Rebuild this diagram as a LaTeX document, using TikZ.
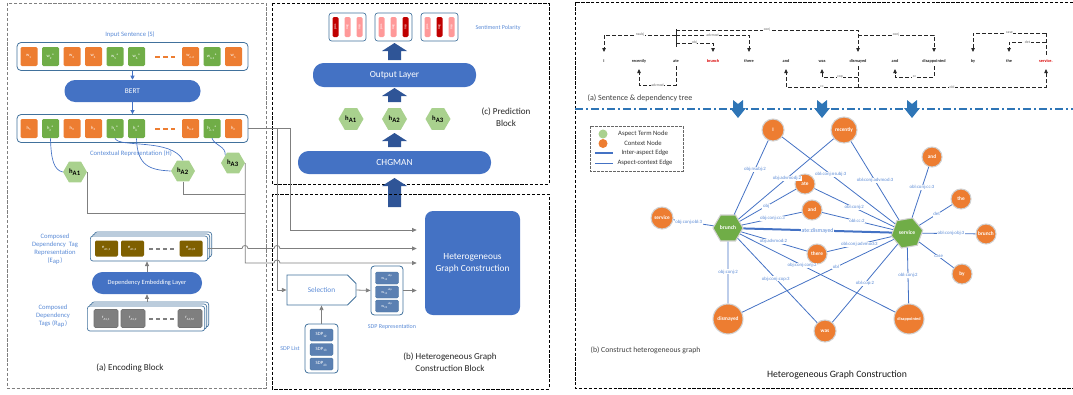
\documentclass[tikz,border=0pt]{standalone}
\usepackage{fontspec}
\setmainfont{Carlito}
\usetikzlibrary{arrows.meta,shapes.geometric,shapes.misc,positioning}

\definecolor{tokorange}{HTML}{ED7D31}
\definecolor{tokgreen}{HTML}{70AD47}
\definecolor{hexgreen}{HTML}{A9D18E}
\definecolor{fillblue}{HTML}{4472C4}
\definecolor{edgeblue}{HTML}{41719C}
\definecolor{labblue}{HTML}{5B8BD6}
\definecolor{arrblue}{HTML}{2F5597}
\definecolor{sepblue}{HTML}{2E75B6}
\definecolor{eapbrown}{HTML}{7F6000}
\definecolor{sdpblue}{HTML}{5B80B2}
\definecolor{posdark}{HTML}{C00000}
\definecolor{poslight}{HTML}{FF9999}
\definecolor{linegrey}{HTML}{7F7F7F}

% thick block arrow pointing up: x, tip y, base y
\newcommand\uparr[3]{\fill[arrblue] (#1-12.5,#2+8) -- (#1,#2) -- (#1+12.5,#2+8) -- (#1+6.5,#2+8) -- (#1+6.5,#3) -- (#1-6.5,#3) -- (#1-6.5,#2+8) -- cycle;}
% notched arrow pointing down
\newcommand\dnarr[1]{\fill[sepblue] (#1-5,100) -- (#1,104) -- (#1+5,100) -- (#1+5,108) -- (#1+8,108) -- (#1,118) -- (#1-8,108) -- (#1-5,108) -- cycle;}

\begin{document}
\begin{tikzpicture}[x=0.75pt,y=0.75pt,yscale=-1,
  wtok/.style={rounded corners=1pt, minimum width=12.75pt, minimum height=14.25pt, inner sep=0pt, text=white, font=\fontsize{3.4}{4}\selectfont},
  etok/.style={fill=eapbrown, rounded corners=1pt, minimum width=17.25pt, minimum height=12pt, inner sep=0pt, text=white, font=\fontsize{3.4}{4}\selectfont},
  rtok/.style={fill=linegrey, draw=black!55, line width=0.4pt, rounded corners=1pt, minimum width=18pt, minimum height=13.5pt, inner sep=0pt, text=white, font=\fontsize{3.4}{4}\selectfont},
  sdptok/.style={fill=sdpblue, draw=edgeblue, line width=0.3pt, rounded corners=1pt, minimum width=17.25pt, minimum height=9pt, inner sep=0pt, text=white, font=\fontsize{3}{3.5}\selectfont},
  rowbox/.style={draw=edgeblue, line width=0.6pt, rounded corners=3pt, minimum width=173.25pt, minimum height=21pt, inner sep=0pt},
  stackbox/.style={draw=edgeblue, line width=0.5pt, fill=white, rounded corners=2pt, minimum width=88pt, minimum height=18.75pt, inner sep=0pt},
  pill/.style={fill=fillblue, rounded corners=8pt, inner sep=0pt, text=white},
  hexa/.style={regular polygon, regular polygon sides=6, fill=hexgreen, inner sep=0pt, font=\bfseries\fontsize{5}{6}\selectfont},
  spbox/.style={draw=edgeblue, line width=0.5pt, rounded corners=2pt, minimum width=27.75pt, minimum height=21pt, inner sep=0pt},
  sbar/.style={rotate=90, rounded corners=1pt, minimum width=15pt, minimum height=4.5pt, inner sep=0pt, text=white, font=\fontsize{2.6}{3}\selectfont},
  lbl/.style={text=labblue, font=\fontsize{5}{6}\selectfont, align=center},
  captxt/.style={text=black!85, font=\fontsize{6.8}{8.6}\selectfont, align=center},
  gline/.style={draw=linegrey, line width=0.6pt},
  gtip/.style={-{Triangle[length=3.5pt,width=3pt]}},
  btip/.style={-{Triangle[length=3pt,width=3pt]}},
  blink/.style={draw=fillblue, line width=0.5pt},
  dashbox/.style={dash pattern=on 2.5pt off 1.2pt, line width=0.6pt},
  dword/.style={inner sep=0.5pt, font=\bfseries\fontsize{3.2}{3.2}\selectfont, text=black!85},
  dep/.style={draw=black!85, line width=0.6pt, dash pattern=on 3pt off 1.5pt},
  deptip/.style={-{Triangle[length=3pt,width=2.6pt]}},
  dlab/.style={fill=white, inner sep=0.4pt, text=black!60, font=\fontsize{2.8}{2.8}\selectfont},
  gctx/.style={circle, fill=tokorange, draw=black!18, line width=0.8pt, inner sep=0pt, text=white, font=\bfseries\fontsize{4}{4}\selectfont},
  gasp/.style={regular polygon, regular polygon sides=6, fill=tokgreen, draw=black!18, line width=0.8pt, inner sep=0pt, text=white, font=\bfseries\fontsize{4.2}{4.2}\selectfont},
  gedge/.style={draw=fillblue, line width=0.6pt},
  elab/.style={fill=white, inner sep=0.4pt, text=labblue, font=\fontsize{3.6}{3.6}\selectfont},
  legtext/.style={text=black!80, font=\fontsize{5}{6}\selectfont}
]
\useasboundingbox (0,0) rectangle (1073,394);

%%%%%%%% (a) Encoding Block
\draw[linegrey, dashbox] (7,3) rectangle (266,388);

\node[lbl] (insent) at (130,35) {Input Sentence (S)};
\node[rowbox] (sbox) at (132.5,56.5) {};
\node[rowbox] (hbox) at (132.5,128.5) {};
\foreach \x/\cl/\tk [count=\i] in {29/tokorange/{\textsubscript{1}}, 50.5/tokgreen/{\textsubscript{2}\textsuperscript{a}},
    72/tokorange/{\textsubscript{3}}, 93.5/tokorange/{\textsubscript{4}}, 115/tokgreen/{\textsubscript{5}\textsuperscript{a}},
    136.5/tokgreen/{\textsubscript{6}\textsuperscript{a}}, 190.5/tokorange/{\textsubscript{n-2}},
    212/tokgreen/{\textsubscript{n-1}\textsuperscript{a}}, 233.5/tokorange/{\textsubscript{n}}}{
  \node[wtok, fill=\cl] (w\i) at (\x,56.5) {w\tk};
  \node[wtok, fill=\cl] (h\i) at (\x,128.5) {h\tk};
}
\draw[tokorange, line width=1.5pt, dash pattern=on 3.75pt off 2.25pt] (155,56.5) -- (175,56.5);
\draw[tokorange, line width=1.5pt, dash pattern=on 3.75pt off 2.25pt] (155,128.5) -- (175,128.5);

\node[pill, minimum width=102pt, minimum height=16.5pt, font=\fontsize{5.5}{6}\selectfont] (bert) at (132.5,91) {BERT};
\node[lbl] (ctxrep) at (131,154) {Contextual Representation (H)};

\node[hexa, minimum size=18pt] (hA1) at (75,172) {h\textsubscript{A1}};
\node[hexa, minimum size=18pt] (hA2) at (183,171) {h\textsubscript{A2}};
\node[hexa, minimum size=18pt] (hA3) at (233,163) {h\textsubscript{A3}};

% composed dependency tag representation
\node[stackbox] (eapb2) at (153,244.5) {};
\node[stackbox] (eapb1) at (151,246.5) {};
\node[stackbox] (eap) at (149,248.5) {};
\node[etok] (e1) at (106.5,248.5) {e\textsubscript{A1,1}};
\node[etok] (e2) at (132.5,248.5) {e\textsubscript{A1,2}};
\node[etok] (eM) at (191,248.5) {e\textsubscript{A1,M}};
\draw[linegrey, line width=1.5pt, dash pattern=on 3pt off 2.25pt] (149,248.5) -- (176,248.5);
\node[lbl] (eaplbl) at (55,249.5) {Composed\\Dependency\ \ Tag\\Representation\\(E\textsubscript{ap})};

\node[pill, minimum width=82.5pt, minimum height=16.5pt, font=\fontsize{4.8}{5}\selectfont] (del) at (147,283) {Dependency Embedding Layer};

% composed dependency tags
\node[stackbox] (rapb2) at (150,314.5) {};
\node[stackbox] (rapb1) at (148,316.5) {};
\node[stackbox] (rap) at (146,318.5) {};
\node[rtok] (r1) at (106,318.5) {r\textsubscript{A1,1}};
\node[rtok] (r2) at (133,318.5) {r\textsubscript{A1,2}};
\node[rtok] (rM) at (190,318.5) {r\textsubscript{A1,M}};
\draw[linegrey, line width=1.5pt, dash pattern=on 3pt off 2.25pt] (149,318.5) -- (176,318.5);
\node[lbl] (raplbl) at (53,316.5) {Composed\\Dependency\\Tags (R\textsubscript{ap})};

\node[captxt] (enccap) at (130,368) {(a) Encoding Block};

%%%%%%%% (c) Prediction Block
\draw[dashbox] (272,3) rectangle (549,184);
\foreach \cx/\ca/\cb/\cc [count=\i] in {347.5/posdark/poslight/poslight, 393.5/poslight/poslight/posdark, 439.5/poslight/posdark/poslight}{
  \node[spbox] (spol\i) at (\cx,27) {};
  \node[sbar, fill=\ca] (sp\i a) at (\cx-12,27) {pos};
  \node[sbar, fill=\cb] (sp\i b) at (\cx,27) {neg};
  \node[sbar, fill=\cc] (sp\i c) at (\cx+12,27) {neu};
}
\node[lbl, font=\fontsize{4.5}{5}\selectfont] (spl) at (498,28) {Sentiment Polarity};

\uparr{394.5}{43}{60}
\node[pill, minimum width=122.25pt, minimum height=18pt, font=\fontsize{7}{8}\selectfont] (outl) at (394.5,75) {Output Layer};
\uparr{394.5}{88}{102}
\node[hexa, minimum size=18.75pt] (pA1) at (351,119) {h\textsubscript{A1}};
\node[hexa, minimum size=18.75pt] (pA2) at (394.5,119) {h\textsubscript{A2}};
\node[hexa, minimum size=18.75pt] (pA3) at (438,119) {h\textsubscript{A3}};
\node[captxt] (ccap) at (506,117) {(c) Prediction\\Block};
\uparr{394.5}{133}{147}
\node[pill, minimum width=144.75pt, minimum height=17.25pt, font=\fontsize{7}{8}\selectfont] (chg) at (394.5,162.5) {CHGMAN};
\uparr{394.5}{178}{207}

%%%%%%%% (b) Heterogeneous Graph Construction Block
\draw[dashbox] (272,194) rectangle (549,389);
\node[fill=fillblue, rounded corners=6pt, minimum width=71.25pt, minimum height=78pt, text=white, align=center, font=\fontsize{7}{9}\selectfont] (hgc) at (472.5,263) {Heterogeneous\\Graph Construction};
\node[chamfered rectangle, chamfered rectangle corners={north east,south east}, draw=edgeblue, line width=0.6pt, minimum width=51.75pt, minimum height=22.5pt, text=labblue, font=\fontsize{5.5}{6}\selectfont] (sel) at (321.5,290) {Selection};

\node[draw=edgeblue, rounded corners=2.5pt, line width=0.6pt, minimum width=24pt, minimum height=36.75pt] (sdpr) at (387,290.5) {};
\node[sdptok] (sr1) at (387,278) {w\textsubscript{12}\textsuperscript{sdp}};
\node[sdptok] (sr2) at (387,292) {w\textsubscript{13}\textsuperscript{sdp}};
\node[sdptok] (sr3) at (387,306) {w\textsubscript{23}\textsuperscript{sdp}};
\node[lbl, font=\fontsize{4.5}{5}\selectfont] (sdprl) at (392,327) {SDP Representation};

\node[draw=edgeblue, rounded corners=2.5pt, line width=0.6pt, minimum width=24.75pt, minimum height=36.75pt] (sdpl) at (321.5,348.5) {};
\node[sdptok, font=\fontsize{3.6}{4}\selectfont] (sl1) at (321.5,335) {SDP\textsubscript{12}};
\node[sdptok, font=\fontsize{3.6}{4}\selectfont] (sl2) at (321.5,349.5) {SDP\textsubscript{13}};
\node[sdptok, font=\fontsize{3.6}{4}\selectfont] (sl3) at (321.5,364) {SDP\textsubscript{23}};
\node[lbl, font=\fontsize{4.5}{5}\selectfont] (sdpll) at (290,348) {SDP List};
\node[captxt] (bcap) at (450,362) {(b) Heterogeneous Graph\\Construction Block};

%%%%%%%% connectors, left and middle
\draw[blink, btip] (sbox.south) -- (bert.north);
\draw[blink, btip] (bert.south) -- (hbox.north);
\draw[blink] (h2.south) .. controls (51,160) and (54,170) .. (hA1.west);
\draw[blink] (h5.south) .. controls (118,148) and (172,138) .. (hA2.north);
\draw[blink] (h6.south) .. controls (137,166) and (150,170) .. (hA2.west);
\draw[blink] (h8.south) .. controls (215,146) and (226,146) .. (hA3.north west);

\draw[gline] (hA1.east) |- (hA3.east |- 0,213);
\draw[gline] (hA2.south) |- (hA3.east |- 0,194);
\draw[gline, gtip, shorten >=6pt] (hA3.east) |- (274,263) .. controls (274,259) and (280,259) .. (280,263) -- (hgc.west |- 0,263);
\draw[gline, gtip, shorten >=6pt] (eap.east) -- (242,248.5) .. controls (242,244.5) and (248,244.5) .. (248,248.5) -- (274,248.5) .. controls (274,244.5) and (280,244.5) .. (280,248.5) -- (hgc.west |- 0,248.5);
\draw[gline, gtip, shorten >=6pt] (hbox.east) -- (290,128.5) -- (290,230) -- (hgc.west |- 0,230);
\draw[gline, gtip] (277,128.5) -- (277,290) -- (sel.west);
\draw[gline, gtip] (del.north) -- (del.north |- eap.south);
\draw[gline, gtip] (del.south |- rapb2.north) -- (del.south);
\draw[gline, gtip] (sel.east) -- (sdpr.west);
\draw[gline, gtip, shorten >=6pt] (sdpr.east) -- (hgc.west |- sdpr.east);
\draw[gline, gtip] (sdpl.north) -- (sel.south);

%%%%%%%% Heterogeneous Graph Construction (right)
\draw[dashbox] (1073,2) -- (575,2) -- (575,388) -- (1073,388);

% sentence & dependency tree
\node[dword] (dI) at (604,61) {I};
\node[dword] (drecently) at (639,61) {recently};
\node[dword] (date) at (676,61) {ate};
\node[dword, text=red!85!black] (dbrunch) at (713,61) {brunch};
\node[dword] (dthere) at (749,61) {there};
\node[dword] (dand) at (786,61) {and};
\node[dword] (dwas) at (822,61) {was};
\node[dword] (ddismayed) at (858,61) {dismayed};
\node[dword] (dand2) at (895,61) {and};
\node[dword] (ddisap) at (934,61) {disappointed};
\node[dword] (dby) at (973,61) {by};
\node[dword] (dthe) at (1009,61) {the};
\node[dword, text=red!85!black] (dservice) at (1046,61) {service.};

\draw[black!85, line width=0.6pt] (date |- 0,29) -- (date |- 0,47);
\draw[dep, deptip] (date |- 0,35) -- node[dlab]{nsubj} (dI |- 0,35) -- (dI |- 0,52);
\draw[dep, deptip] (date |- 0,35) -- node[dlab]{advmod} (dthere |- 0,35) -- (dthere |- 0,52);
\draw[dep, deptip] (date |- 0,43) -- node[dlab]{obj} (dbrunch |- 0,43) -- (dbrunch |- 0,52);
\draw[dep, deptip] (date |- 0,30) -- node[dlab]{conj} (ddismayed |- 0,30) -- (ddismayed |- 0,52);
\draw[dep, deptip] (ddismayed |- 0,35) -- node[dlab]{conj} (ddisap |- 0,35) -- (ddisap |- 0,52);
\draw[dep, deptip] (dservice |- 0,33) -- node[dlab]{case} (dby |- 0,33) -- (dby |- 0,52);
\draw[dep, deptip] (dservice |- 0,42) -- node[dlab]{det} (dthe |- 0,42) -- (dthe |- 0,52);
\draw[dep] (dservice |- 0,33) -- (dservice |- 0,55);

\draw[dep, deptip] (date |- 0,66) -- (date |- 0,85) -- node[dlab]{advmod} (drecently |- 0,85) -- (drecently |- 0,69);
\draw[dep] (ddismayed |- 0,66) -- (ddismayed |- 0,87);
\draw[dep, deptip] (ddismayed |- 0,77) -- node[dlab]{cop} (dwas |- 0,77) -- (dwas |- 0,69);
\draw[dep, deptip] (ddisap |- 0,66) -- (ddisap |- 0,77) -- node[dlab]{cc} (dand2 |- 0,77) -- (dand2 |- 0,69);
\draw[dep, deptip] (ddismayed |- 0,87) -- node[dlab]{cc} (dand |- 0,87) -- (dand |- 0,69);
\draw[dep, deptip] (ddismayed |- 0,87) -- node[dlab]{obl} (dservice |- 0,87) -- (dservice |- 0,69);

\node[anchor=west, text=black!75, font=\fontsize{6}{7}\selectfont] (acap) at (583,98) {(a) Sentence \& dependency tree};

\draw[sepblue, line width=0.9pt, dash pattern=on 6pt off 2.5pt on 1pt off 2.5pt] (575,109) -- (1073,109);
\dnarr{738}
\dnarr{822}
\dnarr{912}

% legend
\draw[black!60, dash pattern=on 2pt off 1pt, line width=0.5pt] (590,126) rectangle (683,171);
\node[circle, fill=hexgreen, minimum size=6.75pt, inner sep=0pt] (lgA) at (603,134) {};
\node[circle, fill=tokorange, minimum size=6.75pt, inner sep=0pt] (lgC) at (603,143.5) {};
\draw[fillblue, line width=1.5pt] (595,153) -- (613,153);
\draw[fillblue, line width=0.6pt] (595,163) -- (613,163);
\node[legtext] (lgAt) at (643,134) {Aspect Term Node};
\node[legtext] (lgCt) at (643,143.5) {Context Node};
\node[legtext] (lgIt) at (645,153) {Inter-aspect Edge};
\node[legtext] (lgEt) at (645,163) {Aspect-context Edge};

% graph nodes
\node[gctx, minimum size=16.5pt] (gI) at (773,130) {I};
\node[gctx, minimum size=19.5pt] (grecently) at (844,130) {recently};
\node[gctx, minimum size=15pt] (gate) at (805,184) {ate};
\node[gctx, minimum size=15pt] (gand) at (812,210) {and};
\node[gctx, minimum size=15pt] (gthere) at (817,254) {there};
\node[gctx, minimum size=16.5pt] (gserv) at (662,218) {service};
\node[gctx, minimum size=22.5pt] (gdismayed) at (728,319) {dismayed};
\node[gctx, minimum size=16.5pt] (gwas) at (825,331) {was};
\node[gctx, minimum size=22.5pt, font=\bfseries\fontsize{3.2}{3.2}\selectfont] (gdisap) at (909,319) {disappointed};
\node[gctx, minimum size=15pt] (gby) at (962,274) {by};
\node[gctx, minimum size=15pt] (gbrunch2) at (986,234) {brunch};
\node[gctx, minimum size=15pt] (gthe) at (961,199) {the};
\node[gctx, minimum size=15pt] (gand2) at (932,157) {and};
\node[gasp, minimum size=22.5pt] (gbrunch) at (728,228) {brunch};
\node[gasp, minimum size=24pt, shape border rotate=10] (gservice) at (907,233) {service};

% graph edges
\draw[gedge] (gbrunch) -- node[elab, pos=.61]{obj:nsubj:2} (gI);
\draw[gedge] (gbrunch) -- node[elab, pos=.51]{obj:advmodj:2} (grecently);
\draw[gedge] (gbrunch) -- node[elab, pos=.47]{obj} (gate);
\draw[gedge] (gbrunch) -- node[elab, pos=.51]{obj:conj:cc:3} (gand);
\draw[gedge] (gbrunch) -- node[elab, pos=.49]{obj:advmod:2} (gthere);
\draw[gedge] (gbrunch) -- node[elab, pos=.4]{obj:conj:conj:2} (gdisap);
\draw[gedge] (gbrunch) -- node[elab, pos=.48]{obj:conj:cop:3} (gwas);
\draw[gedge] (gbrunch) -- node[elab, pos=.49]{obj:conj:2} (gdismayed);
\draw[gedge] (gbrunch) -- node[elab, pos=.62]{obj:conj:obl:3} (gserv);
\draw[gedge, line width=1.5pt] (gbrunch) -- node[elab, pos=.5, font=\fontsize{4.4}{4.4}\selectfont]{ate:dismayed} (gservice);
\draw[gedge] (gservice) -- node[elab, pos=.57]{obl:conj:nsubj:3} (gI);
\draw[gedge] (gservice) -- node[elab, pos=.5]{obl:conj:advmod:3} (grecently);
\draw[gedge] (gservice) -- node[elab, pos=.5]{obl:conj:2} (gate);
\draw[gedge] (gservice) -- node[elab, pos=.51]{obl:cc:2} (gand);
\draw[gedge] (gservice) -- node[elab, pos=.5]{obl:conj:advmod:3} (gthere);
\draw[gedge] (gservice) -- node[elab, pos=.38]{obl} (gdismayed);
\draw[gedge] (gservice) -- node[elab, pos=.5]{obl:cop:2} (gwas);
\draw[gedge] (gservice) -- node[elab, pos=.5]{obl:conj:2} (gdisap);
\draw[gedge] (gservice) -- node[elab, pos=.57]{case} (gby);
\draw[gedge] (gservice) -- node[elab, pos=.53]{det} (gthe);
\draw[gedge] (gservice) -- node[elab, pos=.54]{obl:conj:obj:3} (gbrunch2);
\draw[gedge] (gservice) -- node[elab, pos=.59]{obl:conj:cc:3} (gand2);

\node[anchor=west, text=black!75, font=\fontsize{5.8}{7}\selectfont] (bgcap) at (586,350) {(b) Construct heterogeneous graph};
\node[text=black!90, font=\fontsize{7.3}{8}\selectfont] (hgcap) at (837,375) {Heterogeneous Graph Construction};

\end{tikzpicture}
\end{document}
